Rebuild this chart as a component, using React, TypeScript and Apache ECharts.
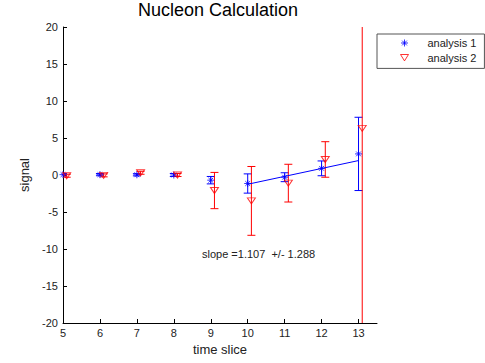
import React, { useEffect, useRef } from "react";
import * as echarts from "echarts";

const xSlices = [5, 6, 7, 8, 9, 10, 11, 12, 13];
const offset2 = 0.1;
const a1Values = [0.05, 0.05, 0.03, 0.0, -0.7, -1.15, -0.3, 0.9, 2.85];
const a1Errors = [0.15, 0.15, 0.15, 0.2, 0.5, 1.3, 0.6, 1.0, 4.95];
const a2Values = [-0.1, -0.05, 0.3, 0.0, -2.1, -3.5, -1.1, 2.1, 6.3];
const a2Errors = [0.2, 0.2, 0.2, 0.2, 2.45, 4.65, 2.55, 2.4, 40];
const fitLine = [
  [10, -1.25],
  [13, 1.95],
];
const xTicks = [5, 6, 7, 8, 9, 10, 11, 12, 13];
const slopeText = "slope =1.107  +/- 1.288";

const FONT = "Liberation Sans, Arial, sans-serif";
const STAR = "path://M5,0L5,10M0,5L10,5M1.6,1.6L8.4,8.4M1.6,8.4L8.4,1.6";
const TRI = "path://M0,0L10,0L5,8Z";

function errorSeries(name: string, data: number[][], color: string) {
  return {
    type: "custom",
    name: name + " err",
    clip: true,
    z: 1,
    silent: true,
    data,
    renderItem: (params: any, api: any) => {
      const x = api.value(0);
      const y = api.value(1);
      const e = api.value(2);
      const top = api.coord([x, y + e]);
      const bot = api.coord([x, y - e]);
      const hw = 4;
      const style = { stroke: color, lineWidth: 1, fill: "none" };
      return {
        type: "group",
        children: [
          { type: "line", shape: { x1: top[0], y1: top[1], x2: bot[0], y2: bot[1] }, style },
          { type: "line", shape: { x1: top[0] - hw, y1: top[1], x2: top[0] + hw, y2: top[1] }, style },
          { type: "line", shape: { x1: bot[0] - hw, y1: bot[1], x2: bot[0] + hw, y2: bot[1] }, style },
        ],
      };
    },
  };
}

export default function App() {
  const ref = useRef<HTMLDivElement>(null);
  useEffect(() => {
    if (!ref.current) return;
    const chart = echarts.init(ref.current, null, { renderer: "svg" });
    const s1 = xSlices.map((x, i) => [x, a1Values[i]]);
    const s2 = xSlices.map((x, i) => [x + offset2, a2Values[i]]);
    const e1 = xSlices.map((x, i) => [x, a1Values[i], a1Errors[i]]);
    const e2 = xSlices.map((x, i) => [x + offset2, a2Values[i], a2Errors[i]]);
    chart.setOption({
      animation: false,
      backgroundColor: "#fff",
      textStyle: { fontFamily: FONT },
      title: {
        text: "Nucleon Calculation",
        left: 218,
        textAlign: "center",
        top: 1,
        padding: 0,
        textStyle: { fontSize: 18, fontWeight: "normal", color: "#000", fontFamily: FONT },
      },
      legend: {
        left: 377,
        top: 34,
        orient: "vertical",
        backgroundColor: "#fff",
        borderColor: "#555",
        borderWidth: 1,
        borderRadius: 0,
        padding: [3, 8, 5, 21],
        itemWidth: 8,
        itemHeight: 7,
        itemGap: 3,
        textStyle: { fontSize: 11, color: "#222", fontFamily: FONT, padding: [0, 0, 0, 14] },
        data: [
          {
            name: "analysis 1",
            icon: STAR,
            itemStyle: { color: "none", borderColor: "#0000ff", borderWidth: 1 },
          },
          {
            name: "analysis 2",
            icon: TRI,
            itemStyle: { color: "none", borderColor: "#ff0000", borderWidth: 1 },
          },
        ],
      },
      grid: { left: 63, top: 27, right: 108, bottom: 40, containLabel: false },
      xAxis: {
        type: "value",
        min: 5,
        max: 13.5,
        interval: 1,
        name: "time slice",
        nameLocation: "middle",
        nameGap: 20,
        nameTextStyle: { fontSize: 13, color: "#222", fontFamily: FONT },
        splitLine: { show: false },
        axisLine: { onZero: false, lineStyle: { color: "#000", width: 1 } },
        axisTick: { inside: true, length: 4, lineStyle: { color: "#000" }, customValues: xTicks },
        axisLabel: { fontSize: 11, color: "#222", margin: 4, customValues: xTicks, fontFamily: FONT },
      },
      yAxis: {
        type: "value",
        min: -20,
        max: 20,
        interval: 5,
        name: "signal",
        nameLocation: "middle",
        nameGap: 28,
        nameTextStyle: { fontSize: 13, color: "#222", fontFamily: FONT },
        splitLine: { show: false },
        axisLine: { show: true, onZero: false, lineStyle: { color: "#000", width: 1 } },
        axisTick: { inside: true, length: 4, lineStyle: { color: "#000" } },
        axisLabel: { fontSize: 11, color: "#222", margin: 5, fontFamily: FONT },
      },
      graphic: [
        {
          type: "text",
          left: 202,
          top: 248,
          style: { text: slopeText, fontSize: 11, fill: "#222", fontFamily: FONT },
        },
      ],
      series: [
        errorSeries("analysis 1", e1, "#0000ff"),
        errorSeries("analysis 2", e2, "#ff0000"),
        {
          type: "line",
          name: "fit",
          data: fitLine,
          showSymbol: false,
          symbol: "none",
          lineStyle: { color: "#0000ff", width: 1 },
          z: 2,
          silent: true,
        },
        {
          type: "scatter",
          name: "analysis 1",
          data: s1,
          symbol: STAR,
          symbolSize: 7,
          itemStyle: { color: "none", borderColor: "#0000ff", borderWidth: 1 },
          z: 3,
        },
        {
          type: "scatter",
          name: "analysis 2",
          data: s2,
          symbol: TRI,
          symbolSize: [8, 6],
          itemStyle: { color: "none", borderColor: "#ff0000", borderWidth: 1 },
          z: 3,
        },
      ],
    });
    return () => chart.dispose();
  }, []);
  return (
    <div
      ref={ref}
      style={{ position: "fixed", left: 0, top: 0, width: 485, height: 363, background: "#fff" }}
    />
  );
}
